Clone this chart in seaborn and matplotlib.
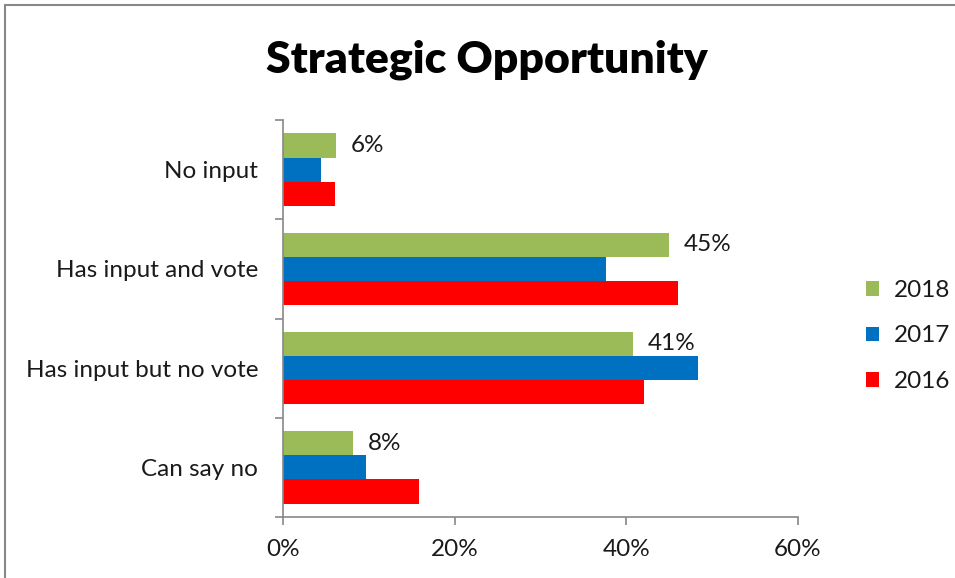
import matplotlib
matplotlib.use("Agg")
import matplotlib.pyplot as plt
from matplotlib.lines import Line2D
import seaborn as sns
import pandas as pd

categories = ["No input", "Has input and vote", "Has input but no vote", "Can say no"]
years = ["2018", "2017", "2016"]
v2018 = [6.2, 45.0, 40.8, 8.2]
v2017 = [4.4, 37.6, 48.4, 9.7]
v2016 = [6.0, 46.0, 42.0, 15.9]
labels_2018 = ["6%", "45%", "41%", "8%"]
xticks = [0, 20, 40, 60]
colors = ["#9BBB59", "#0070C0", "#FF0000"]

rows = []
for y, vals in zip(years, [v2018, v2017, v2016]):
    for c, v in zip(categories, vals):
        rows.append({"category": c, "year": y, "value": v})
df = pd.DataFrame(rows)

sns.set_style("white")
plt.rcParams["font.family"] = ["Lato", "DejaVu Sans"]
FS = 17.5
TXT = "#1a1a1a"

fig = plt.figure(figsize=(9.55, 5.78), dpi=100)
ax = fig.add_axes([283/955, 1-517/578, 515/955, 397/578])

sns.barplot(data=df, y="category", x="value", hue="year", order=categories,
            hue_order=years, palette=colors, orient="h", width=0.73,
            ax=ax, saturation=1, linewidth=0, legend=True)

ax.set_xlim(0, 60)
ax.set_ylim(3.5, -0.5)
ax.set_xticks(xticks)
ax.set_xticklabels([f"{t}%" for t in xticks], fontsize=FS, color=TXT)
ax.set_yticks(range(len(categories)))
ax.set_yticklabels(categories, fontsize=FS, color=TXT)
ax.tick_params(axis="y", length=0, pad=18)
ax.set_yticks([i - 0.5 for i in range(len(categories) + 1)], minor=True)
ax.tick_params(axis="y", which="minor", length=6, color="#888888", width=1.2, direction="out", left=True)
ax.tick_params(axis="x", length=6, color="#888888", width=1.2, direction="out", bottom=True, pad=10)
ax.set_xlabel("")
ax.set_ylabel("")
for s in ["top", "right"]:
    ax.spines[s].set_visible(False)
for s in ["left", "bottom"]:
    ax.spines[s].set_color("#888888")
    ax.spines[s].set_linewidth(1.2)

# labels on 2018 bars
cont = ax.containers[0]
for bar, lab in zip(cont, labels_2018):
    ax.text(bar.get_width() + 1.7, bar.get_y() + bar.get_height() / 2, lab,
            va="center", ha="left", fontsize=FS, color=TXT)

handles, lbls = ax.get_legend_handles_labels()
ax.legend(handles, lbls, loc="center left", bbox_to_anchor=(866/955, 1-336/578),
          bbox_transform=fig.transFigure, frameon=False, fontsize=FS,
          handlelength=0.55, handleheight=0.55, handletextpad=0.6, labelspacing=1.0,
          borderpad=0, borderaxespad=0, labelcolor=TXT)

fig.text(487/955, 1-60/578, "Strategic Opportunity", ha="center", va="center",
         fontsize=32, fontweight="heavy", color="black")

fig.add_artist(Line2D([5/955, 5/955], [0, 1-5/578], transform=fig.transFigure, color="#888888", lw=1.5))
fig.add_artist(Line2D([5/955, 1], [1-5/578, 1-5/578], transform=fig.transFigure, color="#888888", lw=1.5))

fig.savefig("out.png", dpi=100)
